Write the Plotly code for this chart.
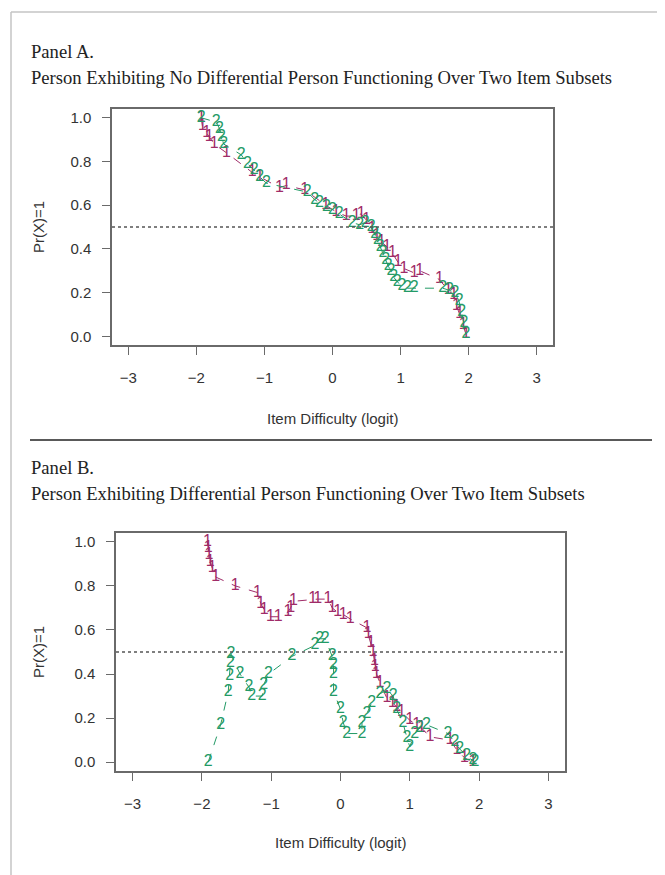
import plotly.graph_objects as go

# ---------------- data ----------------
a_x1 = [-1.93, -1.91, -1.85, -1.81, -1.74, -1.56, -1.18, -1.07, -0.78, -0.68, -0.41, -0.10, 0.05, 0.20, 0.35, 0.42,
        0.50, 0.58, 0.65, 0.72, 0.80, 0.88, 0.96, 1.05, 1.20, 1.28, 1.57, 1.70, 1.78, 1.82, 1.87, 1.92, 1.96]
a_y1 = [1.00, 0.96, 0.93, 0.91, 0.88, 0.84, 0.75, 0.73, 0.68, 0.69, 0.67, 0.60, 0.57, 0.55, 0.55, 0.56,
        0.53, 0.49, 0.46, 0.43, 0.41, 0.38, 0.34, 0.31, 0.29, 0.30, 0.26, 0.21, 0.19, 0.14, 0.10, 0.05, 0.01]
a_x2 = [-1.93, -1.71, -1.66, -1.63, -1.60, -1.34, -1.25, -1.15, -1.07, -0.97, -0.37, -0.26, -0.19, -0.09, 0.0, 0.10,
        0.29, 0.40, 0.48, 0.57, 0.62, 0.66, 0.70, 0.74, 0.78, 0.82, 0.86, 0.90, 0.95, 1.02, 1.10, 1.20, 1.62, 1.72,
        1.80, 1.86, 1.90, 1.93, 1.96]
a_y2 = [1.00, 0.98, 0.95, 0.91, 0.88, 0.83, 0.79, 0.76, 0.73, 0.70, 0.66, 0.625, 0.61, 0.59, 0.58, 0.56,
        0.52, 0.51, 0.52, 0.50, 0.47, 0.44, 0.41, 0.38, 0.35, 0.32, 0.30, 0.27, 0.25, 0.23, 0.22, 0.22, 0.22, 0.21,
        0.20, 0.16, 0.11, 0.06, 0.01]

b_x1 = [-1.92, -1.91, -1.90, -1.88, -1.85, -1.80, -1.52, -1.20, -1.15, -1.10, -1.01, -0.90, -0.76, -0.72, -0.68,
        -0.40, -0.33, -0.18, -0.12, -0.04, 0.04, 0.14, 0.38, 0.40, 0.44, 0.47, 0.49, 0.50, 0.52, 0.57, 0.67, 0.75,
        0.81, 0.88, 1.00, 1.10, 1.17, 1.29, 1.58, 1.68, 1.79, 1.91]
b_y1 = [1.00, 0.97, 0.94, 0.91, 0.88, 0.84, 0.80, 0.77, 0.72, 0.69, 0.66, 0.66, 0.68, 0.70, 0.73,
        0.74, 0.74, 0.74, 0.70, 0.68, 0.67, 0.65, 0.61, 0.58, 0.54, 0.50, 0.46, 0.43, 0.40, 0.36, 0.29, 0.27,
        0.25, 0.23, 0.19, 0.17, 0.155, 0.115, 0.10, 0.055, 0.02, 0.0]
b_x2 = [-1.91, -1.73, -1.62, -1.60, -1.59, -1.58, -1.45, -1.32, -1.28, -1.13, -1.11, -1.04, -0.70, -0.37, -0.30,
        -0.22, -0.12, -0.10, -0.10, -0.10, 0.0, 0.04, 0.09, 0.31, 0.31, 0.38, 0.45, 0.57, 0.67, 0.76, 0.81, 0.90,
        0.96, 1.0, 1.07, 1.14, 1.24, 1.55, 1.65, 1.72, 1.82, 1.91, 1.94]
b_y2 = [0.0, 0.17, 0.32, 0.39, 0.45, 0.49, 0.40, 0.34, 0.30, 0.30, 0.35, 0.40, 0.48, 0.53, 0.56,
        0.56, 0.48, 0.44, 0.40, 0.32, 0.24, 0.18, 0.13, 0.13, 0.18, 0.22, 0.27, 0.31, 0.33, 0.30, 0.24, 0.18,
        0.11, 0.07, 0.13, 0.155, 0.17, 0.13, 0.09, 0.06, 0.03, 0.01, 0.0]

x_ticks = [-3, -2, -1, 0, 1, 2, 3]
y_ticks = [0.0, 0.2, 0.4, 0.6, 0.8, 1.0]
ref_line = 0.5

title_a1 = "Panel A."
title_a2 = "Person Exhibiting No Differential Person Functioning Over Two Item Subsets"
title_b1 = "Panel B."
title_b2 = "Person Exhibiting Differential Person Functioning Over Two Item Subsets"
x_title = "Item Difficulty (logit)"
y_title = "Pr(X)=1"

# ---------------- styling ----------------
OFF = 8                      # default page margin around the plot div
W, H = 665 - OFF, 875 - OFF
PINK = "#A02C68"
GREEN = "#239A66"
AXC = "#6a6a6a"
TXT = "#333333"
SANS = "Liberation Sans, Arial"


def px(v):
    return (v - OFF) / W


def py(v):
    return 1 - (v - OFF) / H


fig = go.Figure()


def series(x, y, label, color, xa, ya):
    fig.add_trace(go.Scatter(
        x=x, y=y, mode="lines+text", text=[label] * len(x), textposition="middle center",
        textfont=dict(family=SANS, size=16, color=color),
        line=dict(color=color, width=1, dash="dash"),
        xaxis=xa, yaxis=ya, showlegend=False, hoverinfo="skip"))


series(a_x1, a_y1, "1", PINK, "x", "y")
series(a_x2, a_y2, "2", GREEN, "x", "y")
series(b_x1, b_y1, "1", PINK, "x2", "y2")
series(b_x2, b_y2, "2", GREEN, "x2", "y2")

boxA = (112, 553, 109, 345)
boxB = (116, 565, 533, 771)

common_x = dict(range=[-3.24, 3.24], tickvals=x_ticks, showgrid=False, zeroline=False,
                showline=True, mirror=True, linecolor=AXC, linewidth=1.5,
                ticks="outside", ticklen=8, tickcolor=AXC, tickwidth=1.2,
                tickfont=dict(family=SANS, size=15, color=TXT),
                ticklabelstandoff=10)
common_y = dict(range=[-0.04, 1.04], tickvals=y_ticks, tickformat=".1f", showgrid=False, zeroline=False,
                showline=True, mirror=True, linecolor=AXC, linewidth=1.5,
                ticks="outside", ticklen=8, tickcolor=AXC, tickwidth=1.2,
                tickfont=dict(family=SANS, size=15, color=TXT),
                ticklabelstandoff=8)

fig.update_layout(
    width=W, height=H, margin=dict(l=0, r=0, t=0, b=0),
    paper_bgcolor="white", plot_bgcolor="white",
    xaxis=dict(domain=[px(boxA[0]), px(boxA[1])], anchor="y", **common_x),
    yaxis=dict(domain=[py(boxA[3]), py(boxA[2])], anchor="x", **common_y),
    xaxis2=dict(domain=[px(boxB[0]), px(boxB[1])], anchor="y2", **common_x),
    yaxis2=dict(domain=[py(boxB[3]), py(boxB[2])], anchor="x2", **common_y),
)

# reference lines at 0.5
for xr, yr in (("x domain", "y"), ("x2 domain", "y2")):
    fig.add_shape(type="line", xref=xr, yref=yr, x0=0, x1=1, y0=ref_line, y1=ref_line,
                  line=dict(color="#555555", width=1.5, dash="dot"))

# frame and separator
fig.add_shape(type="line", xref="paper", yref="paper", x0=px(11), x1=1, y0=py(12), y1=py(12),
              line=dict(color="#c4c4c4", width=1.5))
fig.add_shape(type="line", xref="paper", yref="paper", x0=px(11), x1=px(11), y0=py(12), y1=0,
              line=dict(color="#c4c4c4", width=1.5))
fig.add_shape(type="line", xref="paper", yref="paper", x0=px(30), x1=px(652), y0=py(440), y1=py(440),
              line=dict(color="#222222", width=1.5))

serif = dict(family="Liberation Serif, Times New Roman, serif", size=18.6, color="#222222")
sans = dict(family=SANS, size=15, color=TXT)


def ann(text, x, y, font, xanchor="left", angle=0):
    fig.add_annotation(text=text, x=px(x), y=py(y), xref="paper", yref="paper", showarrow=False,
                       xanchor=xanchor, yanchor="middle", font=font, textangle=angle)


ann(title_a1, 29, 51, serif)
ann(title_a2, 29, 77, serif)
ann(title_b1, 29, 467, serif)
ann(title_b2, 29, 493, serif)
ann(x_title, (boxA[0] + boxA[1]) / 2, 418, sans, "center")
ann(x_title, (boxB[0] + boxB[1]) / 2, 842, sans, "center")
ann(y_title, 38, (boxA[2] + boxA[3]) / 2, sans, "center", -90)
ann(y_title, 38, (boxB[2] + boxB[3]) / 2, sans, "center", -90)

fig.write_html("out.html")
